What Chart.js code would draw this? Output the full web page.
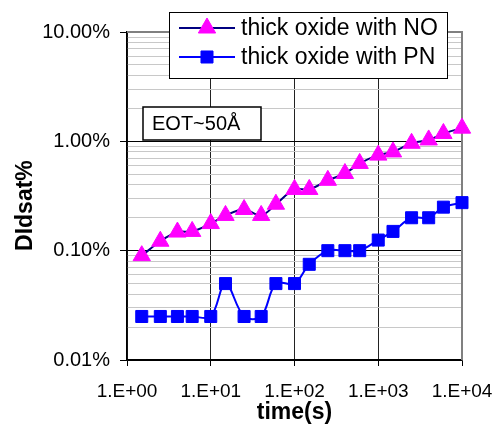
<!DOCTYPE html>
<html>
<head>
<meta charset="utf-8">
<script src="https://cdn.jsdelivr.net/npm/chart.js@4.4.1/dist/chart.umd.min.js"></script>
<style>
  html, body { margin: 0; padding: 0; background: #fff; }
  #wrap { width: 501px; height: 438px; }
</style>
</head>
<body>
<div id="wrap"><canvas id="chart" width="501" height="438"></canvas></div>
<script>
// stress time (s) and Idsat shift (%)
const times = [1.5, 2.5, 4, 6, 10, 15, 25, 40, 60, 100, 150, 250, 400, 600, 1000, 1500, 2500, 4000, 6000, 10000]
const dIdsatNO = [0.09, 0.122, 0.148, 0.15, 0.177, 0.21, 0.238, 0.21, 0.266, 0.363, 0.363, 0.44, 0.508, 0.628, 0.748, 0.80, 0.96, 1.03, 1.18, 1.32]
const dIdsatPN = [0.025, 0.025, 0.025, 0.025, 0.025, 0.05, 0.025, 0.025, 0.05, 0.05, 0.075, 0.1, 0.1, 0.1, 0.125, 0.15, 0.2, 0.2, 0.25, 0.275]

const seriesLabels = ['thick oxide with NO', 'thick oxide with PN']
const xTickValues = [1, 10, 100, 1000, 10000]
const xTickLabels = ['1.E+00', '1.E+01', '1.E+02', '1.E+03', '1.E+04']
const yTickValues = [0.01, 0.1, 1, 10]
const yTickLabels = ['0.01%', '0.10%', '1.00%', '10.00%']
const noteText = 'EOT~50Å'

const FONT = "'Liberation Sans', Arial, sans-serif"

const isDecade = v => Math.abs(Math.log10(v) - Math.round(Math.log10(v))) < 1e-6

// minor gridlines at 2..9 x each decade
const yGridValues = []
for (let i = 0; i < yTickValues.length; i++) {
  yGridValues.push(yTickValues[i])
  if (i < yTickValues.length - 1) {
    for (let m = 2; m <= 9; m++) yGridValues.push(+(m * yTickValues[i]).toPrecision(3))
  }
}

// legend box + text note, drawn like the excel ones
const overlays = {
  id: 'overlays',
  beforeDatasetsDraw(chart) {
    const { ctx, chartArea: a } = chart
    ctx.save()
    ctx.strokeStyle = '#808080'
    ctx.lineWidth = 2
    ctx.beginPath()
    ctx.moveTo(a.left, a.top)
    ctx.lineTo(a.right, a.top)
    ctx.lineTo(a.right, a.bottom)
    ctx.stroke()
    ctx.restore()
  },
  afterDraw(chart) {
    const ctx = chart.ctx
    ctx.save()

    // EOT note
    ctx.fillStyle = '#fff'
    ctx.fillRect(143, 107, 118, 33)
    ctx.strokeStyle = '#000'
    ctx.lineWidth = 1.5
    ctx.strokeRect(143, 107, 118, 33)
    ctx.fillStyle = '#000'
    ctx.font = '20px ' + FONT
    ctx.textBaseline = 'middle'
    ctx.textAlign = 'left'
    ctx.fillText(noteText, 152, 124)

    // legend
    ctx.fillStyle = '#fff'
    ctx.fillRect(169.5, 12.5, 278, 66)
    ctx.lineWidth = 1
    ctx.strokeStyle = '#000'
    ctx.strokeRect(169.5, 12.5, 278, 66)
    ctx.font = '23px ' + FONT
    chart.data.datasets.forEach((ds, i) => {
      const y = 28 + i * 29
      ctx.strokeStyle = ds.borderColor
      ctx.lineWidth = ds.borderWidth
      ctx.beginPath()
      ctx.moveTo(179, y)
      ctx.lineTo(235, y)
      ctx.stroke()
      ctx.fillStyle = ds.pointBackgroundColor
      ctx.strokeStyle = ds.pointBorderColor
      ctx.lineWidth = 1
      Chart.helpers.drawPoint(ctx, { pointStyle: ds.pointStyle, radius: ds.pointRadius, rotation: 0, borderWidth: 1 }, 207, y)
      ctx.fillStyle = '#000'
      ctx.fillText(ds.label, 241, y + 1)
    })
    ctx.restore()
  }
}

const toPoints = ys => times.map((t, i) => ({ x: t, y: ys[i] }))

const chart = new Chart(document.getElementById('chart'), {
  type: 'scatter',
  data: {
    datasets: [
      {
        label: seriesLabels[0],
        data: toPoints(dIdsatNO),
        showLine: true,
        tension: 0.35,
        borderColor: '#000080',
        borderWidth: 2,
        pointStyle: 'triangle',
        pointRadius: 10,
        pointHoverRadius: 10,
        pointBackgroundColor: '#FF00FF',
        pointBorderColor: '#FF00FF',
        pointBorderWidth: 1,
        clip: false
      },
      {
        label: seriesLabels[1],
        data: toPoints(dIdsatPN),
        showLine: true,
        tension: 0.35,
        borderColor: '#0000FF',
        borderWidth: 2,
        pointStyle: 'rect',
        pointRadius: 8.5,
        pointHoverRadius: 8.5,
        pointBackgroundColor: '#0000FF',
        pointBorderColor: '#0000FF',
        pointBorderWidth: 1,
        clip: false
      }
    ]
  },
  options: {
    responsive: false,
    animation: false,
    layout: { padding: { top: 32, right: 39, left: 0, bottom: 0 } },
    plugins: {
      legend: { display: false },
      tooltip: { enabled: false }
    },
    scales: {
      x: {
        type: 'logarithmic',
        min: 1,
        max: 10000,
        afterBuildTicks: scale => { scale.ticks = xTickValues.map(v => ({ value: v })) },
        afterFit: scale => {
          scale.height = 78
          // labels overhang into the outer padding, don't let them shrink the plot
          scale.paddingLeft = 0
          scale.paddingRight = 0
        },
        ticks: {
          autoSkip: false,
          maxRotation: 0,
          padding: 14,
          color: '#000',
          font: { family: FONT, size: 19 },
          callback: v => xTickLabels[xTickValues.indexOf(v)] ?? ''
        },
        grid: { color: '#222', lineWidth: 1, tickLength: 6, tickColor: '#000' },
        border: { color: '#000', width: 1.5 },
        title: {
          display: true,
          text: 'time(s)',
          color: '#000',
          font: { family: FONT, size: 23, weight: 'bold' },
          padding: { top: 12, bottom: 12 }
        }
      },
      y: {
        type: 'logarithmic',
        min: 0.01,
        max: 10,
        afterBuildTicks: scale => { scale.ticks = yGridValues.map(v => ({ value: v })) },
        afterFit: scale => { scale.width = 127 },
        ticks: {
          autoSkip: false,
          padding: 10,
          color: '#000',
          font: { family: FONT, size: 20 },
          callback: v => {
            const i = yTickValues.findIndex(t => Math.abs(t - v) < 1e-9)
            return i >= 0 ? yTickLabels[i] : ''
          }
        },
        grid: {
          lineWidth: 1,
          tickLength: 7,
          color: c => (c.tick && isDecade(c.tick.value) ? '#000' : '#c8c8c8'),
          tickColor: c => (c.tick && isDecade(c.tick.value) ? '#000' : 'rgba(0,0,0,0)')
        },
        border: { color: '#000', width: 1.5 },
        title: {
          display: true,
          text: 'DIdsat%   ',
          color: '#000',
          font: { family: FONT, size: 23, weight: 'bold' },
          padding: { top: 12, bottom: 12 }
        }
      }
    }
  },
  plugins: [overlays]
})
</script>
</body>
</html>
